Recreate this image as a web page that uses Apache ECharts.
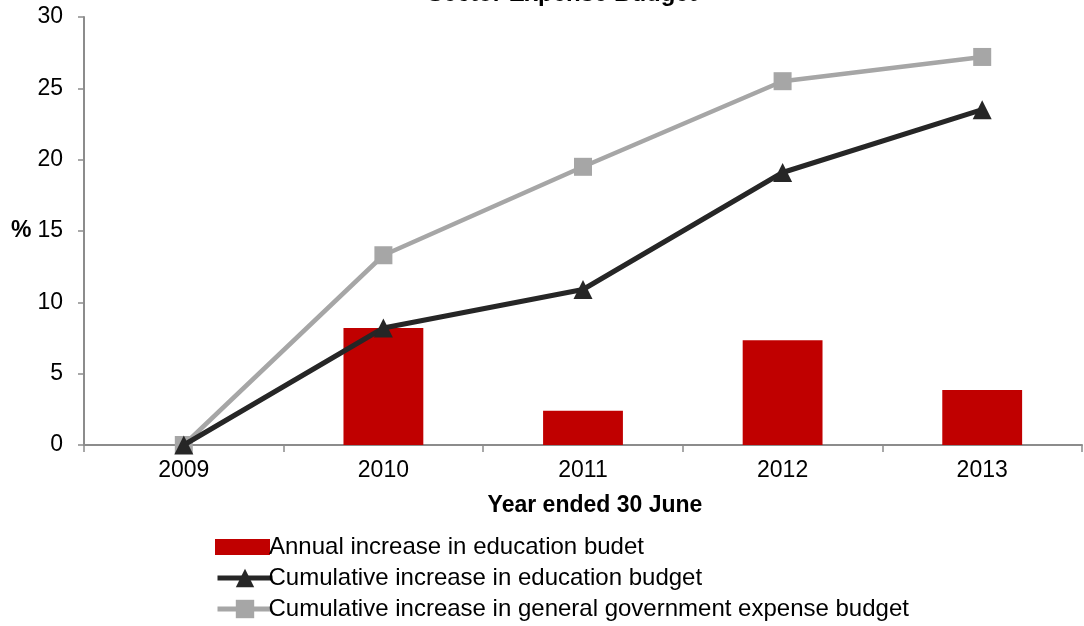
<!DOCTYPE html>
<html>
<head>
<meta charset="utf-8">
<script src="https://cdn.jsdelivr.net/npm/echarts@6/dist/echarts.min.js"></script>
<style>
  html, body { margin: 0; padding: 0; background: #fff; }
  #chart { width: 1084px; height: 626px; }
</style>
</head>
<body>
<div id="chart"></div>
<script>
// Budget growth by financial year (per cent)
const years = ['2009', '2010', '2011', '2012', '2013'];
const annualEducation = [0, 8.2, 2.4, 7.35, 3.85];
const cumulativeEducation = [0, 8.2, 10.9, 19.1, 23.5];
const cumulativeGeneral = [0, 13.3, 19.5, 25.5, 27.2];

const seriesNames = [
  'Annual increase in education budet',
  'Cumulative increase in education budget',
  'Cumulative increase in general government expense budget'
];

const font = 'Liberation Sans, Arial, sans-serif';
const axisGrey = '#8c8c8c';
const red = '#c00000';
const dark = '#262626';
const grey = '#a6a6a6';

// one legend row per series, stacked under the plot
const legendRowTops = [530, 561, 592];
function legendRow(i, name, icon, textShift, h) {
  return {
    left: 210,
    top: legendRowTops[i],
    itemWidth: 55,
    itemHeight: h,
    icon: icon,
    textStyle: { fontFamily: font, fontSize: 24, color: '#000', padding: [0, 0, 0, textShift] },
    lineStyle: { width: 5 },
    data: [name]
  };
}

const chart = echarts.init(document.getElementById('chart'));
chart.setOption({
  animation: false,
  backgroundColor: '#ffffff',
  title: {
    text: 'Sector Expense Budget',
    left: 557,
    textAlign: 'center',
    top: -23,
    textStyle: { fontFamily: font, fontSize: 24, fontWeight: 'bold', color: '#000' }
  },
  grid: { left: 84, right: 2, top: 17, bottom: 181 },
  legend: [
    legendRow(0, seriesNames[0], 'rect', -6, 16),
    legendRow(1, seriesNames[1], undefined, -9, 23),
    legendRow(2, seriesNames[2], undefined, -9, 23)
  ],
  xAxis: {
    type: 'category',
    data: years,
    boundaryGap: true,
    name: 'Year ended 30 June',
    nameLocation: 'middle',
    nameGap: 49,
    nameTextStyle: { fontFamily: font, fontSize: 23, fontWeight: 'bold', color: '#000', padding: [0, 0, 0, 24] },
    axisLine: { lineStyle: { color: axisGrey, width: 2 } },
    axisTick: { show: true, length: 7, lineStyle: { color: axisGrey, width: 1.5 } },
    axisLabel: { fontFamily: font, fontSize: 23, color: '#000', margin: 14 }
  },
  yAxis: {
    type: 'value',
    min: 0,
    max: 30,
    interval: 5,
    name: '%',
    nameLocation: 'middle',
    nameRotate: 0,
    nameGap: 52,
    nameTextStyle: { fontFamily: font, fontSize: 23, fontWeight: 'bold', color: '#000' },
    splitLine: { show: false },
    axisLine: { show: true, lineStyle: { color: axisGrey, width: 2 } },
    axisTick: { show: true, length: 6, lineStyle: { color: axisGrey, width: 1.5 } },
    axisLabel: { fontFamily: font, fontSize: 23, color: '#000', margin: 21 }
  },
  series: [
    {
      name: seriesNames[0],
      type: 'bar',
      data: annualEducation,
      barWidth: '40%',
      itemStyle: { color: red },
      z: 1
    },
    {
      name: seriesNames[2],
      type: 'line',
      data: cumulativeGeneral,
      symbol: 'rect',
      symbolSize: 18,
      lineStyle: { color: grey, width: 4.5 },
      itemStyle: { color: grey },
      z: 2
    },
    {
      name: seriesNames[1],
      type: 'line',
      data: cumulativeEducation,
      symbol: 'triangle',
      symbolSize: 19,
      lineStyle: { color: dark, width: 5 },
      itemStyle: { color: dark },
      z: 3
    }
  ]
});
</script>
</body>
</html>
